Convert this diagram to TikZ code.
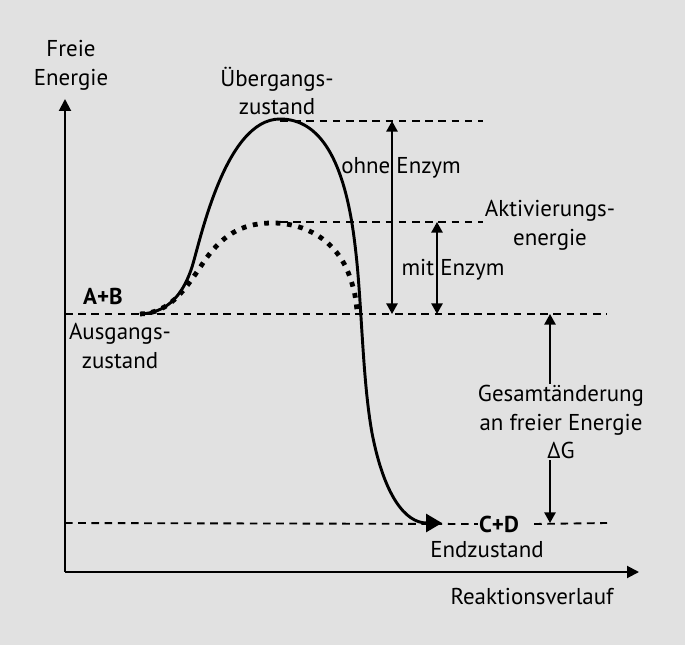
\documentclass[tikz,border=0pt]{standalone}
\usepackage{fontspec}
\setmainfont{PT Sans}
\usetikzlibrary{arrows.meta}
\definecolor{bggray}{RGB}{225,225,225}

\begin{document}
\begin{tikzpicture}[x=0.75pt,y=0.75pt,yscale=-1,xscale=1,
  every node/.style={font=\fontsize{17.2}{21.5}\selectfont, inner sep=0.75pt, align=center},
  axis/.style={line width=1.5pt, -{Triangle[length=9pt,width=9pt]}},
  level/.style={line width=1.4pt, dash pattern={on 5.7pt off 4.2pt}},
  gap/.style={line width=1.3pt, {Triangle[length=8pt,width=8.5pt]}-{Triangle[length=8pt,width=8.5pt]}},
  halfgap/.style={line width=1.3pt, -{Triangle[length=8pt,width=8.5pt]}}]
%set diagram size 685 x 645
\fill [bggray] (0,0) rectangle (685,645);
\useasboundingbox (0,0) rectangle (685,645);

% Coordinates
\coordinate (origin) at (65,572);
\coordinate (ytip) at (65,99);
\coordinate (xtip) at (639,572);
\coordinate (start) at (140,314);
\coordinate (peak) at (280,119);
\coordinate (enzpeak) at (273,223);
\coordinate (finish) at (442,523);

%Axes
\draw [axis] (origin) -- (ytip);
\draw [axis] (origin) -- (xtip);

% Text Node
\node (freie) at (71,65) {Freie\\Energie};
% Text Node
\node (uebergang) at (277,91) {Übergangs-\\zustand};
% Text Node
\node (ohne) at (401,168) {ohne Enzym};
% Text Node
\node (aktiv) at (550,225) {Aktivierungs-\\energie};
% Text Node
\node (mit) at (453,270) {mit Enzym};
% Text Node
\node (ab) at (103,296) {\bfseries A+B};
% Text Node
\node (ausgang) at (120,346) {Ausgangs-\\zustand};
% Text Node
\node (dG) at (561,422) {Gesamtänderung\\an freier Energie\\ΔG};
% Text Node
\node (cd) at (499,524) {\bfseries C+D};
% Text Node
\node (end) at (487,550) {Endzustand};
% Text Node
\node (reakt) at (532,597) {Reaktionsverlauf};

%Dashed levels
\draw [level] (280,121) -- (483,121);
\draw [level] (280,222) -- (483,222);
\draw [level] (65,314) -- (607,314);
\draw [level] (65,523) -- (cd.west);
\draw [level] (cd.east) ++(14,0) -- (607,523);

%Reaction without enzyme
\draw [line width=2.2pt, -{Triangle[length=12pt,width=13.5pt]}] (start) .. controls (165,313) and (182,298) .. (192,267)
  .. controls (200,242) and (225,119) .. (peak)
  .. controls (320,119) and (345,160) .. (355,245)
  .. controls (362,301) and (362,377) .. (372,433)
  .. controls (384,495) and (405,523) .. (finish);
%Reaction with enzyme
\draw [line width=3.6pt, dash pattern={on 3.6pt off 5pt}] (start) .. controls (170,313) and (185,290) .. (205,260)
  .. controls (225,232) and (245,223) .. (enzpeak)
  .. controls (305,223) and (335,240) .. (348,272)
  .. controls (355,290) and (356,300) .. (357,311);

%Activation energy arrows
\draw [gap] (392,121) -- (392,314);
\draw [gap] (437,222) -- (437,314);
%Delta G
\draw [halfgap] (dG.north -| 550,0) -- (550,314);
\draw [halfgap] (dG.south -| 550,0) -- (550,523);

\end{tikzpicture}
\end{document}
